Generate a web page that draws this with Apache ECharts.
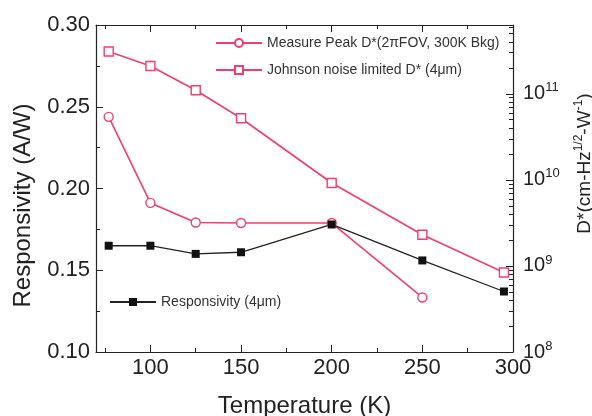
<!DOCTYPE html>
<html>
<head>
<meta charset="utf-8">
<script src="https://cdn.jsdelivr.net/npm/echarts@6/dist/echarts.min.js"></script>
<style>html,body{margin:0;padding:0;background:#fff}#c{width:592px;height:416px}</style>
</head>
<body>
<div id="c"></div>
<script>
var temperatures = [77, 100, 125, 150, 200, 250, 295];
var responsivity = [0.165, 0.165, 0.160, 0.161, 0.178, 0.156, 0.137];
var measuredT = [77, 100, 125, 150, 200, 250];
var measuredD = [5.4e10, 5.4e9, 3.2e9, 3.15e9, 3.15e9, 4.3e8];
var johnsonD = [3.1e11, 2.1e11, 1.1e11, 5.2e10, 9.2e9, 2.3e9, 8.4e8];
var xMajorTicks = [100, 150, 200, 250, 300];
var xMinorTicks = [75, 125, 175, 225, 275];
var dMajorTicks = [1e8, 1e9, 1e10, 1e11];
var dMin = 1e8, dMax = 6.3e11;
var dMinorTicks = [];
[1e8, 1e9, 1e10, 1e11].forEach(function (d) {
  for (var k = 2; k <= 9; k++) { if (d * k < dMax) dMinorTicks.push(d * k); }
});

var pink = '#ef3f6e';
var FONT = 'Liberation Sans, Arial, sans-serif';

function pairs(xs, ys) { return xs.map(function (x, i) { return [x, ys[i]]; }); }
function lg(v) { return Math.log10(v); }

var chart = echarts.init(document.getElementById('c'));
var baseX = { type: 'value', min: 70, max: 300, splitLine: { show: false } };
var tickY = function (vals, len) {
  return {
    type: 'value', position: 'right', min: lg(dMin), max: lg(dMax),
    splitLine: { show: false }, axisLine: { show: false }, axisLabel: { show: false },
    axisTick: { show: true, inside: true, length: len, customValues: vals.map(lg), lineStyle: { color: '#222', width: 1 } }
  };
};
chart.setOption({
  backgroundColor: '#fff',
  animation: false,
  textStyle: { fontFamily: FONT },
  grid: { left: 96, right: 79, top: 25, bottom: 64, containLabel: false, outerBoundsMode: 'none' },
  xAxis: [
    Object.assign({}, baseX, {
      position: 'bottom',
      name: 'Temperature (K)', nameLocation: 'middle', nameGap: 42,
      nameTextStyle: { fontSize: 24, color: '#222', fontFamily: FONT },
      axisLine: { lineStyle: { color: '#222', width: 1.2 } },
      axisTick: { inside: true, length: 7, customValues: xMajorTicks, lineStyle: { color: '#222' } },
      axisLabel: { customValues: xMajorTicks, fontSize: 22, color: '#222', margin: 5, fontFamily: FONT }
    }),
    Object.assign({}, baseX, {
      position: 'bottom',
      axisLine: { show: false },
      axisTick: { inside: true, length: 4, customValues: xMinorTicks, lineStyle: { color: '#222' } },
      axisLabel: { show: false }
    }),
    Object.assign({}, baseX, {
      position: 'top',
      axisLine: { lineStyle: { color: '#222', width: 1.2 } },
      axisTick: { inside: true, length: 7, customValues: xMajorTicks, lineStyle: { color: '#222' } },
      axisLabel: { show: false }
    }),
    Object.assign({}, baseX, {
      position: 'top',
      axisLine: { show: false },
      axisTick: { inside: true, length: 4, customValues: xMinorTicks, lineStyle: { color: '#222' } },
      axisLabel: { show: false }
    })
  ],
  yAxis: [
    {
      type: 'value', position: 'left', min: 0.1, max: 0.3, interval: 0.05,
      name: 'Responsivity (A/W)', nameLocation: 'middle', nameGap: 61,
      nameTextStyle: { fontSize: 24, color: '#222', fontFamily: FONT, padding: [0, 34, 0, 0] },
      splitLine: { show: false },
      axisLine: { show: true, lineStyle: { color: '#222', width: 1.2 } },
      axisTick: { inside: true, length: 7, lineStyle: { color: '#222' } },
      minorTick: { show: true, splitNumber: 2, length: 4, lineStyle: { color: '#222' } },
      axisLabel: { fontSize: 22, color: '#222', margin: 6, fontFamily: FONT,
        formatter: function (v) { return v.toFixed(2); } }
    },
    {
      type: 'log', position: 'right', min: dMin, max: dMax, logBase: 10,
      name: '{n|D*(cm-Hz}{s|1/2}{n|-W}{s|-1}{n|)}', nameLocation: 'middle', nameGap: 60, nameRotate: 90,
      nameTextStyle: { fontFamily: FONT, color: '#222', padding: [0, 0, 0, 50],
        rich: { n: { fontSize: 19, color: '#222', fontFamily: FONT },
                s: { fontSize: 12, color: '#222', fontFamily: FONT, padding: [0, 0, 11, 0] } } },
      splitLine: { show: false },
      axisLine: { show: true, lineStyle: { color: '#222', width: 1.2 } },
      axisTick: { show: false },
      axisLabel: { customValues: dMajorTicks, margin: 10, fontFamily: FONT,
        formatter: function (v) { return '{b|10}{s|' + Math.round(Math.log10(v)) + '}'; },
        rich: { b: { fontSize: 20, color: '#222', fontFamily: FONT },
                s: { fontSize: 13, color: '#222', fontFamily: FONT, padding: [0, 0, 12, 0] } } }
    },
    tickY(dMajorTicks, 7),
    tickY(dMinorTicks, 4)
  ],
  legend: [
    {
      orient: 'vertical', left: 210, top: 31, itemGap: 13, itemWidth: 46, itemHeight: 10,
      textStyle: { fontSize: 14, color: '#333', fontFamily: FONT },
      data: ['Measure Peak D*(2πFOV, 300K Bkg)', 'Johnson noise limited D* (4μm)']
    },
    {
      orient: 'vertical', left: 104, top: 290, itemWidth: 46, itemHeight: 10,
      textStyle: { fontSize: 14, color: '#333', fontFamily: FONT },
      data: ['Responsivity (4μm)']
    }
  ],
  series: [
    {
      name: 'Measure Peak D*(2πFOV, 300K Bkg)', type: 'line', xAxisIndex: 0, yAxisIndex: 1,
      data: pairs(measuredT, measuredD),
      symbol: 'circle', symbolSize: 9,
      lineStyle: { color: pink, width: 1.6 },
      itemStyle: { color: '#fff', borderColor: pink, borderWidth: 1.4 }
    },
    {
      name: 'Johnson noise limited D* (4μm)', type: 'line', xAxisIndex: 0, yAxisIndex: 1,
      data: pairs(temperatures, johnsonD),
      symbol: 'rect', symbolSize: 9,
      lineStyle: { color: pink, width: 1.6 },
      itemStyle: { color: '#fff', borderColor: pink, borderWidth: 1.4 }
    },
    {
      name: 'Responsivity (4μm)', type: 'line', xAxisIndex: 0, yAxisIndex: 0,
      data: pairs(temperatures, responsivity),
      symbol: 'rect', symbolSize: 8,
      lineStyle: { color: '#222', width: 1.3 },
      itemStyle: { color: '#111', borderColor: '#111', borderWidth: 0 }
    }
  ]
});
</script>
</body>
</html>
